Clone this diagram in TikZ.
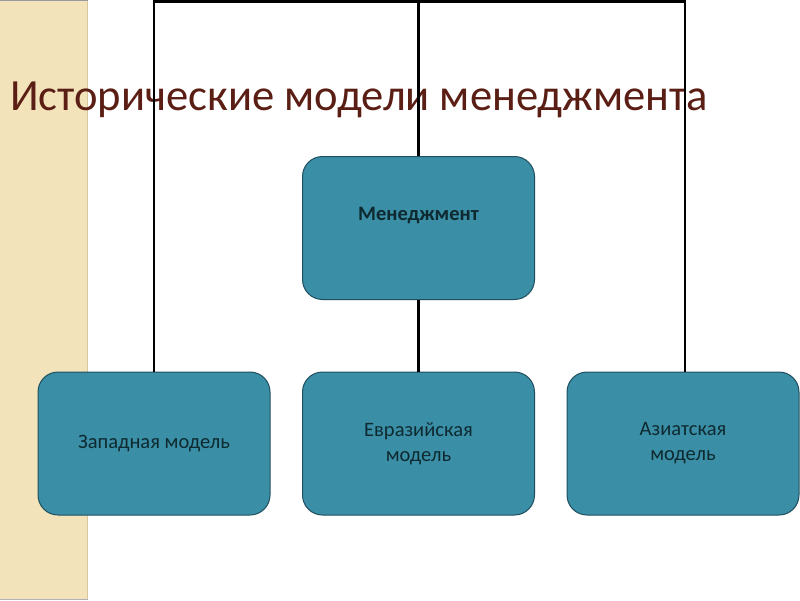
\documentclass[tikz,border=0pt]{standalone}
\usepackage{fontspec}
\setmainfont{Carlito}
\definecolor{band}{HTML}{F3E3BA}
\definecolor{bandedge}{HTML}{D8C69C}
\definecolor{boxfill}{HTML}{3A8EA6}
\definecolor{boxline}{HTML}{1F4F5E}
\definecolor{titlec}{HTML}{5A1E14}
\definecolor{boxtext}{HTML}{0E2A30}
\tikzset{
  modelbox/.style={draw=boxline, line width=1pt, fill=boxfill, rounded corners=20pt,
    minimum width=232pt, minimum height=143pt, inner sep=0pt,
    text=boxtext, font=\fontsize{20.5}{25}\selectfont, align=center},
  conn/.style={draw=black, line width=2.5pt},
}
\begin{document}
\begin{tikzpicture}[x=1pt,y=-1pt]
\useasboundingbox (0,0) rectangle (800,600);
\fill[white] (0,0) rectangle (800,600);
% left band
\fill[band] (0,0) rectangle (88,600);
\draw[bandedge, line width=1.5pt] (87.5,0) -- (87.5,600);
\draw[gray!80, line width=1pt] (0,0.5) -- (88,0.5);
\draw[gray!60, line width=1pt] (0,599.5) -- (88,599.5);
% title
\node[anchor=base west, inner sep=0pt, text=titlec, font=\fontsize{44.6}{54}\selectfont] (title) at (10,110) {Исторические модели менеджмента};
% boxes
\node[modelbox] (mgmt) at (418.5,228) {};
\node[inner sep=0pt, text=boxtext, font=\fontsize{20.5}{25}\selectfont\bfseries] (mgmtT) at (418.5,216) {Менеджмент};
\node[modelbox] (west) at (154,443.5) {Западная модель};
\node[modelbox] (eur) at (418.5,443.5) {Евразийская\\модель};
\node[modelbox] (asia) at (683,443.5) {Азиатская\\модель};
% connectors
\coordinate (tl) at (154,1.5);
\coordinate (tm) at (418.5,1.5);
\coordinate (tr) at (685,1.5);
\draw[conn] ([xshift=-1.25pt]tl) -- ([xshift=1.25pt]tr);
\draw[conn] (tl) -- (west.north);
\draw[conn] (tm) -- (mgmt.north);
\draw[conn] (mgmt.south) -- (eur.north);
\draw[conn] (tr) -- (tr |- asia.north);
\end{tikzpicture}
\end{document}
